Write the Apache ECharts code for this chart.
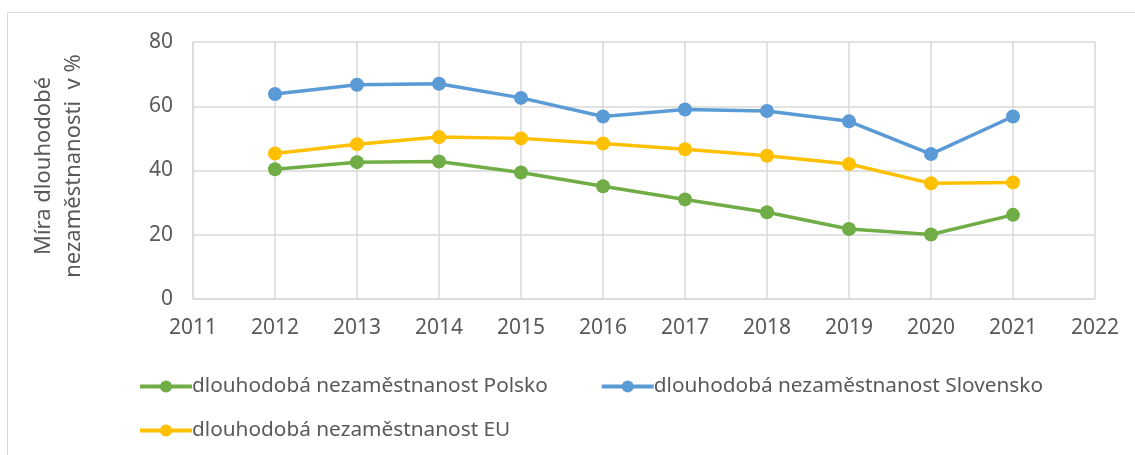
<!DOCTYPE html>
<html><head><meta charset="utf-8">
<script src="https://cdn.jsdelivr.net/npm/echarts@6/dist/echarts.min.js"></script>
<style>html,body{margin:0;padding:0;background:#fff}#c{width:1135px;height:455px}</style>
</head><body><div id="c"></div>
<script>
const years = [2012, 2013, 2014, 2015, 2016, 2017, 2018, 2019, 2020, 2021];
const polsko = [40.4, 42.6, 42.8, 39.4, 35.1, 31.0, 27.0, 21.8, 20.1, 26.2];
const slovensko = [63.8, 66.7, 67.0, 62.6, 56.8, 59.0, 58.5, 55.3, 45.1, 56.8];
const eu = [45.3, 48.2, 50.4, 50.0, 48.4, 46.6, 44.6, 42.0, 36.0, 36.3];
const names = ['dlouhodobá nezaměstnanost Polsko', 'dlouhodobá nezaměstnanost Slovensko', 'dlouhodobá nezaměstnanost EU'];
const yTitle = ['Míra dlouhodobé', 'nezaměstnanosti  v %'];

const font = '"Noto Sans", sans-serif';
const txt = '#595959';
const pair = (v) => years.map((y, i) => [y, v[i]]);
const mk = (name, data, color) => ({
  name, type: 'line', data: pair(data), color,
  symbol: 'circle', symbolSize: 14,
  lineStyle: { width: 3.5, color }, itemStyle: { color },
  emphasis: { disabled: true }
});
const legText = { color: txt, fontSize: 20.8, fontFamily: font, padding: [0, 0, 0, -5] };
const chart = echarts.init(document.getElementById('c'), null, { renderer: 'canvas' });
chart.setOption({
  animation: false,
  textStyle: { fontFamily: font },
  graphic: [
    { type: 'rect', shape: { x: 7.5, y: 12.5, width: 1200, height: 500 }, style: { fill: 'none', stroke: '#d9d9d9', lineWidth: 1 }, silent: true },
    { type: 'text', x: 44, y: 166, rotation: Math.PI / 2, style: { text: yTitle[0], font: '22px ' + font, fill: txt, align: 'center', verticalAlign: 'middle' } },
    { type: 'text', x: 74, y: 166, rotation: Math.PI / 2, style: { text: yTitle[1], font: '22px ' + font, fill: txt, align: 'center', verticalAlign: 'middle' } }
  ],
  grid: { left: 193, right: 40, top: 42, bottom: 156, containLabel: false },
  xAxis: {
    type: 'value', min: 2011, max: 2022, interval: 1,
    axisLine: { show: true, lineStyle: { color: '#d9d9d9', width: 1.5 } },
    axisTick: { show: false },
    splitLine: { show: true, lineStyle: { color: '#d9d9d9', width: 1.5 } },
    axisLabel: { color: txt, fontSize: 21, fontFamily: font, margin: 19, formatter: (v) => String(v) }
  },
  yAxis: {
    type: 'value', min: 0, max: 80, interval: 20,
    axisLine: { show: true, lineStyle: { color: '#d9d9d9', width: 1.5 } },
    axisTick: { show: false },
    splitLine: { show: true, lineStyle: { color: '#d9d9d9', width: 1.5 } },
    axisLabel: { color: txt, fontSize: 21, fontFamily: font, margin: 20 }
  },
  legend: [
    { data: [names[0], names[1]], left: 133, top: 371, itemWidth: 52, itemHeight: 15, itemGap: 52,
      lineStyle: { width: 4 }, textStyle: legText },
    { data: [names[2]], left: 133, top: 415, itemWidth: 52, itemHeight: 15,
      lineStyle: { width: 4 }, textStyle: legText }
  ],
  series: [
    mk(names[0], polsko, '#70AD47'),
    mk(names[1], slovensko, '#5B9BD5'),
    mk(names[2], eu, '#FFC000')
  ]
});
</script></body></html>
